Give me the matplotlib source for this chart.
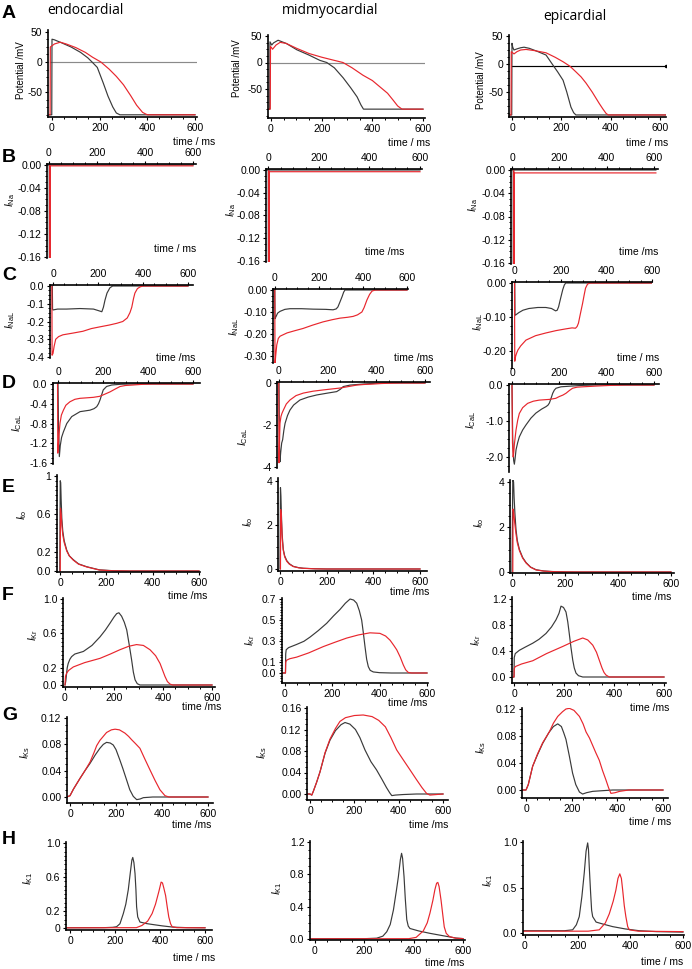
import matplotlib
matplotlib.use('Agg')
import matplotlib.pyplot as plt
from matplotlib.ticker import AutoMinorLocator

plt.rcParams['font.family'] = ['Liberation Sans', 'DejaVu Sans']
plt.rcParams['mathtext.fontset'] = 'custom'
plt.rcParams['mathtext.rm'] = 'Liberation Sans'
plt.rcParams['mathtext.it'] = 'Liberation Sans:italic'

W, H = 692, 969
BLACK = '#3a3a3a'
RED = '#e8262d'

# ---------------- data: (time ms, value), black = _k, red = _r ----------------
# A: action potential (mV)
ap_endo_k = [(-12, -88), (-1, -88), (0, 38), (10, 37), (40, 32), (80, 25), (120, 16), (150, 7),
             (168, 0), (190, -9), (215, -35), (235, -57), (255, -75), (270, -85), (285, -88), (600, -88)]
ap_endo_r = [(-12, -88), (-8, -88), (-7, 25), (0, 27), (10, 30), (35, 33), (60, 30), (100, 24),
             (140, 16), (170, 8), (205, 0), (240, -12), (270, -24), (300, -38), (330, -56),
             (355, -72), (380, -84), (400, -88), (600, -88)]
ap_mid_k = [(-8, -88), (-5, -88), (-4, 39), (3, 33), (10, 37), (28, 42), (60, 36), (102, 24),
            (150, 14), (193, 4), (220, 0), (250, -10), (285, -29), (315, -48), (340, -65),
            (355, -80), (365, -88), (600, -88)]
ap_mid_r = [(-8, -88), (-3, -88), (-2, 30), (2, 28), (6, 25), (20, 33), (36, 38), (60, 36),
            (100, 27), (150, 17), (200, 10), (250, 4), (284, 0), (320, -10), (363, -24),
            (400, -34), (430, -46), (460, -58), (482, -71), (500, -82), (517, -88), (600, -88)]
ap_epi_k = [(-14, -91), (-1, -91), (0, 37), (3, 30), (8, 25), (20, 27), (35, 29), (49, 30),
            (70, 28), (100, 23), (138, 16), (166, -2), (185, -14), (207, -29), (222, -50),
            (239, -77), (250, -87), (259, -91), (625, -91)]
ap_epi_r = [(-14, -91), (-4, -91), (-3, 22), (3, 20), (8, 18), (20, 22), (35, 25), (57, 26),
            (90, 24), (138, 20), (175, 12), (207, 4), (235, -4), (259, -14), (280, -23),
            (300, -34), (325, -50), (353, -70), (368, -80), (381, -88), (390, -91), (625, -91)]
ap_zero = [(-8, 0), (608, 0)]
ap_zero_epi = [(0, -3), (625, -3)]

# B: I_Na
ina_endo_k = [(-8, 0), (1, 0), (1.5, -0.2), (2.5, -0.2), (3, 0), (600, 0)]
ina_endo_r = [(2.5, 0), (3, -0.2), (4.5, -0.2), (5, -0.0015), (600, -0.0015)]
ina_mid_k = [(-8, 0), (1, 0), (1.5, -0.2), (2.5, -0.2), (3, 0), (600, 0)]
ina_mid_r = [(2.5, 0), (3, -0.2), (4.5, -0.2), (5, -0.003), (600, -0.003)]
ina_epi_k = [(-4, 0), (5, 0), (5.5, -0.2), (6.5, -0.2), (7, 0), (608, 0)]
ina_epi_r = [(7.5, 0), (8, -0.2), (9.5, -0.2), (10, -0.005), (608, -0.005)]

# C: I_NaL
inal_endo_k = [(-3, 0), (-2, -0.13), (0, -0.135), (20, -0.13), (60, -0.13), (120, -0.127),
               (180, -0.13), (205, -0.14), (217, -0.145), (224, -0.12), (231, -0.08), (240, -0.04),
               (253, -0.01), (265, 0), (600, 0)]
inal_endo_r = [(-5, 0), (-4, -0.39), (0, -0.38), (5, -0.34), (12, -0.3), (25, -0.285), (44, -0.275),
               (90, -0.265), (133, -0.255), (170, -0.24), (209, -0.23), (250, -0.22), (284, -0.21),
               (310, -0.2), (330, -0.18), (342, -0.15), (350, -0.12), (358, -0.07), (364, -0.04),
               (375, -0.015), (387, -0.005), (400, 0), (600, 0)]
inal_mid_k = [(-1, 0), (0, -0.13), (5, -0.12), (12, -0.105), (23, -0.097), (45, -0.088), (68, -0.085),
              (120, -0.085), (173, -0.087), (230, -0.088), (264, -0.09), (278, -0.086), (286, -0.077),
              (295, -0.055), (305, -0.03), (312, -0.01), (318, 0), (600, 0)]
inal_mid_r = [(-1, 0), (0, -0.34), (3, -0.3), (8, -0.25), (15, -0.22), (23, -0.21), (55, -0.195),
              (90, -0.185), (127, -0.175), (170, -0.16), (218, -0.145), (260, -0.135), (295, -0.128),
              (330, -0.124), (355, -0.12), (375, -0.113), (395, -0.1), (405, -0.08), (418, -0.045),
              (430, -0.02), (441, -0.005), (455, 0), (600, 0)]
inal_epi_k = [(-1, 0), (0, -0.095), (5, -0.093), (17, -0.087), (35, -0.08), (61, -0.075), (100, -0.072),
              (135, -0.072), (160, -0.075), (178, -0.082), (185, -0.08), (191, -0.07), (198, -0.05),
              (209, -0.02), (216, -0.006), (222, 0), (600, 0)]
inal_epi_r = [(-2, 0), (-1, -0.23), (3, -0.215), (8, -0.205), (13, -0.197), (25, -0.185), (48, -0.168),
              (90, -0.155), (135, -0.147), (180, -0.14), (222, -0.135), (250, -0.132), (265, -0.133),
              (272, -0.128), (278, -0.118), (285, -0.095), (296, -0.06), (303, -0.035), (309, -0.015),
              (318, -0.003), (330, 0), (600, 0)]

# D: I_CaL
ical_endo_k = [(0, 0), (2, -0.8), (6, -1.47), (10, -1.25), (16, -1.08), (24, -0.97), (39, -0.8),
               (61, -0.66), (98, -0.56), (142, -0.53), (160, -0.5), (172, -0.46), (180, -0.4),
               (187, -0.32), (194, -0.22), (201, -0.12), (216, -0.05), (239, -0.02), (280, -0.005),
               (320, 0), (600, 0)]
ical_endo_r = [(-2, 0), (-1, -1.4), (1, -1.3), (4, -1.05), (9, -0.79), (15, -0.63), (24, -0.53),
               (35, -0.43), (53, -0.36), (75, -0.31), (98, -0.29), (157, -0.27), (185, -0.25),
               (201, -0.22), (216, -0.19), (231, -0.16), (255, -0.1), (276, -0.05), (300, -0.03),
               (333, -0.02), (380, -0.005), (420, 0), (600, 0)]
ical_mid_k = [(0, 0), (2, -3.0), (4, -3.75), (7, -3.3), (11, -2.86), (15, -2.7), (20, -2.25), (25, -1.92),
              (35, -1.55), (45, -1.29), (60, -1.05), (86, -0.81), (120, -0.67), (155, -0.57), (200, -0.48),
              (237, -0.41), (252, -0.3), (264, -0.17), (292, -0.1), (346, -0.05), (400, -0.01),
              (450, 0), (600, 0)]
ical_mid_r = [(-1, 0), (0, -3.8), (2, -2.8), (4, -1.92), (8, -1.6), (12, -1.45), (18, -1.29), (30, -1.0),
              (45, -0.81), (70, -0.6), (100, -0.48), (140, -0.39), (182, -0.33), (220, -0.28),
              (251, -0.24), (285, -0.17), (319, -0.1), (350, -0.07), (387, -0.05), (420, -0.025),
              (455, -0.01), (500, 0), (600, 0)]
ical_epi_k = [(0, 0), (3, -1.5), (7, -2.1), (10, -2.2), (13, -2.05), (17, -1.8), (24, -1.6), (31, -1.44),
              (45, -1.25), (59, -1.11), (80, -0.92), (101, -0.78), (125, -0.67), (144, -0.6),
              (152, -0.56), (158, -0.5), (165, -0.37), (172, -0.23), (179, -0.14), (186, -0.09),
              (207, -0.05), (250, -0.03), (300, -0.01), (350, 0), (600, 0)]
ical_epi_r = [(0, 0), (2, -1.6), (5, -2.0), (7, -1.9), (10, -1.65), (17, -1.25), (24, -0.98), (31, -0.79),
              (45, -0.63), (66, -0.51), (90, -0.45), (115, -0.42), (158, -0.4), (185, -0.37),
              (200, -0.32), (215, -0.28), (228, -0.23), (243, -0.15), (256, -0.09), (275, -0.06),
              (299, -0.05), (355, -0.03), (420, -0.01), (480, 0), (600, 0)]

# E: I_to
ito_endo_k = [(-1, 0), (1, 0.95), (3, 0.93), (5, 0.75), (8, 0.55), (12, 0.42), (18, 0.32), (29, 0.22),
              (40, 0.16), (57, 0.12), (80, 0.075), (115, 0.045), (170, 0.012), (230, 0.003),
              (300, 0), (600, 0)]
ito_endo_r = [(1, 0), (2, 0.66), (5, 0.6), (8, 0.48), (12, 0.38), (18, 0.3), (29, 0.21), (40, 0.16),
              (57, 0.115), (80, 0.072), (115, 0.043), (170, 0.01), (230, 0.002), (300, 0), (600, 0)]
ito_mid_k = [(0, 0), (2, 3.7), (4, 3.3), (6, 2.5), (9, 1.6), (14, 0.9), (20, 0.6), (29, 0.38), (40, 0.24),
             (57, 0.12), (80, 0.06), (100, 0.035), (150, 0.01), (200, 0), (600, 0)]
ito_mid_r = [(2, 0), (3, 2.7), (5, 2.5), (7, 2.0), (10, 1.3), (14, 0.85), (20, 0.55), (29, 0.35),
             (40, 0.22), (57, 0.11), (80, 0.055), (100, 0.03), (150, 0.008), (200, 0), (600, 0)]
ito_epi_k = [(0, 0), (3, 4.1), (6, 4.0), (8, 3.3), (11, 2.6), (15, 1.9), (20, 1.4), (28, 1.0), (40, 0.65),
             (53, 0.42), (70, 0.22), (91, 0.1), (120, 0.045), (153, 0.02), (200, 0.005), (250, 0),
             (600, 0)]
ito_epi_r = [(3, 0), (4, 2.8), (7, 2.6), (10, 2.2), (15, 1.7), (20, 1.3), (28, 0.95), (40, 0.62),
             (53, 0.4), (70, 0.21), (91, 0.09), (120, 0.04), (153, 0.015), (200, 0.004), (250, 0),
             (600, 0)]

# F: I_Kr
ikr_endo_k = [(0, 0), (3, 0.04), (6, 0.12), (9, 0.2), (13, 0.25), (20, 0.3), (27, 0.33), (40, 0.36),
              (75, 0.39), (110, 0.46), (143, 0.56), (165, 0.64), (184, 0.72), (200, 0.79), (211, 0.83),
              (220, 0.84), (231, 0.8), (242, 0.73), (252, 0.64), (262, 0.47), (272, 0.29), (279, 0.15),
              (286, 0.06), (295, 0.015), (306, 0), (600, 0)]
ikr_endo_r = [(0, 0), (2, 0.1), (7, 0.14), (15, 0.17), (34, 0.21), (80, 0.26), (143, 0.31), (185, 0.36),
              (224, 0.41), (260, 0.45), (292, 0.47), (320, 0.46), (347, 0.41), (370, 0.34), (388, 0.25),
              (400, 0.16), (408, 0.1), (418, 0.04), (429, 0.01), (440, 0), (600, 0)]
ikr_mid_k = [(-12, 0), (2, 0), (3, 0.18), (5, 0.22), (15, 0.24), (49, 0.27), (80, 0.3), (106, 0.34),
             (140, 0.4), (176, 0.47), (205, 0.54), (232, 0.6), (255, 0.66), (275, 0.7), (290, 0.69),
             (303, 0.66), (314, 0.59), (324, 0.5), (331, 0.38), (338, 0.25), (345, 0.13), (352, 0.06),
             (360, 0.025), (373, 0.01), (400, 0.003), (450, 0), (600, 0)]
ikr_mid_r = [(-12, 0), (2, 0), (3, 0.1), (6, 0.12), (20, 0.135), (49, 0.15), (100, 0.19), (162, 0.25),
             (210, 0.29), (260, 0.33), (310, 0.36), (359, 0.38), (401, 0.375), (425, 0.35), (444, 0.31),
             (460, 0.26), (472, 0.22), (487, 0.15), (500, 0.076), (510, 0.03), (521, 0.005), (535, 0),
             (600, 0)]
ikr_epi_k = [(-2, 0), (0, 0), (1, 0.3), (5, 0.36), (21, 0.41), (45, 0.46), (75, 0.52), (100, 0.58),
             (128, 0.67), (150, 0.77), (168, 0.88), (180, 0.98), (188, 1.09), (198, 1.07), (208, 1.0),
             (215, 0.85), (221, 0.67), (228, 0.45), (235, 0.26), (241, 0.14), (248, 0.06), (258, 0.02),
             (275, 0), (600, 0)]
ikr_epi_r = [(-2, 0), (0, 0), (1, 0.13), (5, 0.16), (30, 0.2), (75, 0.25), (130, 0.36), (195, 0.47),
             (240, 0.55), (275, 0.6), (295, 0.57), (315, 0.49), (330, 0.38), (341, 0.26), (352, 0.14),
             (360, 0.07), (368, 0.03), (381, 0), (600, 0)]

# G: I_Ks
iks_endo_k = [(-14, 0), (0, 0.002), (15, 0.012), (43, 0.028), (65, 0.04), (87, 0.051), (110, 0.064),
              (130, 0.074), (145, 0.08), (159, 0.083), (175, 0.082), (188, 0.079), (200, 0.072),
              (217, 0.056), (230, 0.043), (246, 0.026), (260, 0.011), (275, 0.001), (290, -0.004),
              (305, -0.003), (319, -0.001), (360, 0), (600, 0)]
iks_endo_r = [(-14, 0), (0, 0.002), (15, 0.012), (43, 0.028), (65, 0.04), (87, 0.053), (105, 0.068),
              (116, 0.078), (130, 0.086), (159, 0.098), (180, 0.102), (196, 0.103), (215, 0.102),
              (239, 0.097), (255, 0.092), (268, 0.087), (285, 0.081), (304, 0.074), (325, 0.058),
              (348, 0.041), (370, 0.025), (391, 0.011), (413, 0.002), (430, 0), (600, 0)]
iks_mid_k = [(-10, 0), (0, 0), (8, -0.002), (15, 0.005), (30, 0.022), (45, 0.041), (68, 0.076),
             (90, 0.1), (115, 0.118), (140, 0.129), (158, 0.133), (180, 0.13), (205, 0.12), (225, 0.105),
             (248, 0.082), (275, 0.06), (300, 0.045), (325, 0.027), (345, 0.012), (360, 0.002),
             (369, -0.003), (385, -0.002), (420, -0.001), (480, 0), (600, 0)]
iks_mid_r = [(-10, 0), (0, 0), (8, -0.002), (15, 0.005), (30, 0.022), (45, 0.041), (68, 0.077),
             (90, 0.102), (115, 0.122), (135, 0.135), (160, 0.142), (200, 0.146), (240, 0.147),
             (280, 0.144), (310, 0.137), (340, 0.125), (365, 0.105), (391, 0.082), (420, 0.064),
             (451, 0.045), (480, 0.027), (505, 0.012), (526, 0.001), (541, -0.002), (570, -0.001),
             (600, 0)]
iks_epi_k = [(-14, 0), (0, 0), (10, 0.008), (29, 0.035), (50, 0.052), (73, 0.069), (100, 0.085),
             (120, 0.094), (139, 0.098), (155, 0.094), (165, 0.085), (175, 0.075), (190, 0.05),
             (204, 0.025), (218, 0.008), (234, -0.003), (248, -0.006), (265, -0.004), (292, -0.002),
             (380, 0), (600, 0)]
iks_epi_r = [(-14, 0), (0, 0), (10, 0.008), (29, 0.035), (50, 0.053), (73, 0.07), (102, 0.086),
             (120, 0.099), (139, 0.109), (160, 0.116), (175, 0.12), (190, 0.121), (210, 0.118),
             (234, 0.109), (250, 0.098), (263, 0.086), (278, 0.077), (292, 0.066), (306, 0.055),
             (321, 0.044), (335, 0.029), (350, 0.015), (362, 0.003), (372, -0.005), (390, -0.004),
             (410, -0.002), (450, 0), (600, 0)]

# H: I_K1
ik1_endo_k = [(-14, 0.003), (150, 0.004), (190, 0.008), (207, 0.015), (222, 0.05), (237, 0.17),
              (248, 0.28), (259, 0.45), (268, 0.65), (275, 0.8), (279, 0.83), (284, 0.77), (289, 0.64),
              (293, 0.45), (296, 0.25), (301, 0.13), (311, 0.07), (340, 0.052), (370, 0.04),
              (410, 0.025), (459, 0.01), (520, 0.004), (600, 0.003)]
ik1_endo_r = [(-14, 0.002), (295, 0.004), (320, 0.03), (345, 0.08), (365, 0.17), (380, 0.28),
              (395, 0.43), (405, 0.54), (411, 0.53), (417, 0.47), (425, 0.38), (432, 0.25),
              (439, 0.13), (447, 0.05), (454, 0.015), (475, 0.004), (600, 0.002)]
ik1_mid_k = [(-20, 0.003), (200, 0.004), (250, 0.01), (275, 0.035), (291, 0.09), (305, 0.18),
             (318, 0.36), (330, 0.6), (338, 0.77), (346, 0.98), (351, 1.06), (355, 1.0), (361, 0.77),
             (366, 0.5), (372, 0.24), (378, 0.16), (385, 0.13), (420, 0.1), (466, 0.07), (520, 0.04),
             (571, 0.012), (600, 0.005)]
ik1_mid_r = [(-20, 0.002), (380, 0.004), (410, 0.02), (439, 0.1), (455, 0.2), (466, 0.32), (478, 0.48),
             (486, 0.61), (493, 0.69), (498, 0.7), (503, 0.65), (511, 0.48), (518, 0.3), (524, 0.15),
             (532, 0.07), (545, 0.03), (570, 0.01), (600, 0.005)]
ik1_epi_k = [(-10, 0.025), (150, 0.025), (181, 0.035), (195, 0.09), (206, 0.18), (216, 0.4),
             (225, 0.66), (232, 0.9), (238, 0.99), (241, 0.92), (244, 0.73), (249, 0.45), (253, 0.25),
             (257, 0.18), (270, 0.12), (300, 0.095), (333, 0.07), (380, 0.045), (434, 0.025),
             (500, 0.015), (600, 0.01)]
ik1_epi_r = [(-10, 0.02), (240, 0.02), (282, 0.035), (305, 0.11), (320, 0.21), (335, 0.35), (345, 0.47),
             (353, 0.6), (360, 0.65), (366, 0.6), (371, 0.47), (377, 0.3), (383, 0.18), (390, 0.07),
             (396, 0.035), (430, 0.02), (600, 0.015)]

x_ticks = [0, 200, 400, 600]

# ---------------- layout helpers ----------------
fig = plt.figure(figsize=(W / 100, H / 100), dpi=100)


def ftext(x, y, s, **kw):
    fig.text(x / W, 1 - y / H, s, **kw)


def panel(box, xref, yref, yticks, ylabels, curves, top_axis=False):
    left, top, right, bottom = box
    ax = fig.add_axes([left / W, 1 - bottom / H, (right - left) / W, (bottom - top) / H])
    px0, px600 = xref
    sx = (px600 - px0) / 600.0
    ax.set_xlim((left - px0) / sx, (right - px0) / sx)
    (va, pa), (vb, pb) = yref
    sy = (pa - pb) / (vb - va)
    ax.set_ylim(va - (bottom - pa) / sy, va + (pa - top) / sy)
    for pts, col in curves:
        t = [p[0] for p in pts]
        v = [p[1] for p in pts]
        ax.plot(t, v, color=col, lw=0.85, solid_joinstyle='round')
    ax.set_xticks(x_ticks)
    ax.set_yticks(yticks)
    ax.set_yticklabels(ylabels)
    ax.xaxis.set_minor_locator(AutoMinorLocator(4))
    ax.yaxis.set_minor_locator(AutoMinorLocator(4))
    for s in ax.spines.values():
        s.set_linewidth(1.2)
    ax.spines['right'].set_visible(False)
    if top_axis:
        ax.spines['bottom'].set_visible(False)
        ax.xaxis.tick_top()
    else:
        ax.spines['top'].set_visible(False)
        ax.xaxis.tick_bottom()
    ax.yaxis.tick_left()
    ax.tick_params(which='major', length=2.5, width=0.8, labelsize=7.5, pad=1.5)
    ax.tick_params(which='minor', length=1.5, width=0.7)
    ax.patch.set_alpha(0)
    return ax


# ---------------- A: action potential ----------------
ax = panel((48, 30, 197, 117), (52, 195), ((50, 32), (-50, 92)), [-50, 0, 50], ['-50', '0', '50'],
           [(ap_zero, '#8a8a8a'), (ap_endo_k, BLACK), (ap_endo_r, RED)])
ax = panel((268, 35, 425, 118), (271, 423), ((50, 36), (-50, 89)), [-50, 0, 50], ['-50', '0', '50'],
           [(ap_zero, '#8a8a8a'), (ap_mid_k, BLACK), (ap_mid_r, RED)])
ax = panel((509, 35, 666, 117), (512, 660), ((50, 36), (-50, 92)), [-50, 0, 50], ['-50', '0', '50'],
           [(ap_zero_epi, 'black'), (ap_epi_k, BLACK), (ap_epi_r, RED)])
ax.plot([ap_zero_epi[-1][0]], [ap_zero_epi[-1][1]], 'o', color='black', ms=1.5)

# ---------------- B: I_Na ----------------
b_ticks = [0, -0.04, -0.08, -0.12, -0.16]
b_labels = ['0.00', '-0.04', '-0.08', '-0.12', '-0.16']
panel((47, 164, 196, 258), (49, 193), ((0, 165), (-0.16, 257)), b_ticks, b_labels,
      [(ina_endo_k, BLACK), (ina_endo_r, RED)], top_axis=True)
panel((266, 169, 422, 262), (268, 420), ((0, 170), (-0.16, 261)), b_ticks, b_labels,
      [(ina_mid_k, BLACK), (ina_mid_r, RED)], top_axis=True)
panel((511, 169, 658, 264), (512, 654), ((0, 170), (-0.16, 263)), b_ticks, b_labels,
      [(ina_epi_k, BLACK), (ina_epi_r, RED)], top_axis=True)

# ---------------- C: I_NaL ----------------
panel((50, 285, 193, 358), (53, 188), ((0, 286), (-0.4, 357)), [0, -0.1, -0.2, -0.3, -0.4],
      ['0.0', '-0.1', '-0.2', '-0.3', '-0.4'], [(inal_endo_k, BLACK), (inal_endo_r, RED)], top_axis=True)
panel((273, 289, 408, 363), (275, 407), ((0, 290), (-0.3, 356)), [0, -0.1, -0.2, -0.3],
      ['0.00', '-0.10', '-0.20', '-0.30'], [(inal_mid_k, BLACK), (inal_mid_r, RED)], top_axis=True)
panel((512, 282, 652, 368), (515, 653), ((0, 283), (-0.2, 351)), [0, -0.1, -0.2],
      ['0.00', '-0.10', '-0.20'], [(inal_epi_k, BLACK), (inal_epi_r, RED)], top_axis=True)

# ---------------- D: I_CaL ----------------
panel((53, 383, 200, 464), (58, 193), ((0, 384), (-1.6, 463)), [0, -0.4, -0.8, -1.2, -1.6],
      ['0.0', '-0.4', '-0.8', '-1.2', '-1.6'], [(ical_endo_k, BLACK), (ical_endo_r, RED)], top_axis=True)
panel((277, 382, 430, 468), (279, 425), ((0, 383), (-4, 467)), [0, -2, -4],
      ['0', '-2', '-4'], [(ical_mid_k, BLACK), (ical_mid_r, RED)], top_axis=True)
panel((509, 384, 659, 472), (512, 654), ((0, 385), (-2, 457)), [0, -1, -2],
      ['0.0', '-1.0', '-2.0'], [(ical_epi_k, BLACK), (ical_epi_r, RED)], top_axis=True)

# ---------------- E: I_to ----------------
panel((57, 475, 200, 572), (60, 199), ((0, 571), (0.2, 552)), [0, 0.2, 0.6, 1.0],
      ['0.0', '0.2', '0.6', '1'], [(ito_endo_k, BLACK), (ito_endo_r, RED)])
panel((278, 478, 427, 571), (280, 420), ((0, 569), (2, 525)), [0, 2, 4],
      ['0', '2', '4'], [(ito_mid_k, BLACK), (ito_mid_r, RED)])
panel((510, 480, 674, 573), (512, 671), ((0, 572), (2, 527)), [0, 2, 4],
      ['0', '2', '4'], [(ito_epi_k, BLACK), (ito_epi_r, RED)])

# ---------------- F: I_Kr ----------------
panel((63, 598, 215, 687), (65, 212), ((0, 685), (1.0, 599)), [0, 0.2, 0.6, 1.0],
      ['0.0', '0.2', '0.6', '1.0'], [(ikr_endo_k, BLACK), (ikr_endo_r, RED)])
panel((282, 598, 428, 683), (285, 427), ((0, 673), (0.7, 599)), [0, 0.1, 0.3, 0.5, 0.7],
      ['0.0', '0.1', '0.3', '0.5', '0.7'], [(ikr_mid_k, BLACK), (ikr_mid_r, RED)])
panel((512, 597, 666, 683), (514, 664), ((0, 677), (1.2, 599)), [0, 0.4, 0.8, 1.2],
      ['0.0', '0.4', '0.8', '1.2'], [(ikr_epi_k, BLACK), (ikr_epi_r, RED)])

# ---------------- G: I_Ks ----------------
panel((67, 717, 213, 803), (70, 208), ((0, 797), (0.12, 718)), [0, 0.04, 0.08, 0.12],
      ['0.00', '0.04', '0.08', '0.12'], [(iks_endo_k, BLACK), (iks_endo_r, RED)])
panel((307, 707, 448, 800), (310, 443), ((0, 794), (0.16, 708)), [0, 0.04, 0.08, 0.12, 0.16],
      ['0.00', '0.04', '0.08', '0.12', '0.16'], [(iks_mid_k, BLACK), (iks_mid_r, RED)])
panel((522, 708, 668, 798), (526, 663), ((0, 790), (0.12, 709)), [0, 0.04, 0.08, 0.12],
      ['0.00', '0.04', '0.08', '0.12'], [(iks_epi_k, BLACK), (iks_epi_r, RED)])

# ---------------- H: I_K1 ----------------
panel((66, 842, 212, 930), (70, 205), ((0, 928), (1.0, 843)), [0, 0.2, 0.6, 1.0],
      ['0', '0.2', '0.6', '1.0'], [(ik1_endo_k, BLACK), (ik1_endo_r, RED)])
panel((310, 841, 465, 940), (315, 463), ((0, 939), (1.2, 842)), [0, 0.4, 0.8, 1.2],
      ['0.0', '0.4', '0.8', '1.2'], [(ik1_mid_k, BLACK), (ik1_mid_r, RED)])
panel((523, 841, 684, 935), (525, 683), ((0, 933), (1.0, 842)), [0, 0.5, 1.0],
      ['0.0', '0.5', '1.0'], [(ik1_epi_k, BLACK), (ik1_epi_r, RED)])

# ---------------- texts ----------------
title_kw = dict(fontsize=10, family=['Open Sans', 'DejaVu Sans'], ha='center', va='center')
ftext(85, 10, 'endocardial', **title_kw)
ftext(330, 10, 'midmyocardial', **title_kw)
ftext(575, 16, 'epicardial', **title_kw)

for letter, y in zip('ABCDEFGH', [13, 157, 275, 383, 488, 596, 715, 839]):
    ftext(2, y, letter, fontsize=14, fontweight='bold', ha='left', va='center')

tl_kw = dict(fontsize=7.5, ha='right', va='center')
time_labels = [
    (215, 142, 'time / ms'), (430, 143, 'time / ms'), (668, 143, 'time / ms'),
    (196, 249, 'time / ms'), (404, 252, 'time /ms'), (658, 252, 'time /ms'),
    (195, 358, 'time /ms'), (433, 358, 'time /ms'), (659, 358, 'time / ms'),
    (207, 596, 'time /ms'), (429, 592, 'time /ms'), (671, 597, 'time /ms'),
    (221, 707, 'time /ms'), (427, 703, 'time /ms'), (669, 708, 'time /ms'),
    (211, 825, 'time /ms'), (448, 825, 'time /ms'), (671, 822, 'time / ms'),
    (215, 958, 'time / ms'), (464, 963, 'time /ms'), (683, 962, 'time / ms'),
]
for x, y, s in time_labels:
    ftext(x, y, s, **tl_kw)

yl_kw = dict(fontsize=7, ha='center', va='center', rotation=90)
for x, y in [(21, 70), (237, 68), (481, 80)]:
    ftext(x, y, 'Potential /mV', **yl_kw)

cur_labels = [
    (10, 200, r'$I_{\rm Na}$'), (231, 210, r'$I_{\rm Na}$'), (473, 205, r'$I_{\rm Na}$'),
    (10, 320, r'$I_{\rm NaL}$'), (234, 327, r'$I_{\rm NaL}$'), (478, 322, r'$I_{\rm NaL}$'),
    (17, 423, r'$I_{\rm CaL}$'), (243, 437, r'$I_{\rm CaL}$'), (471, 420, r'$I_{\rm CaL}$'),
    (22, 515, r'$I_{\rm to}$'), (248, 522, r'$I_{\rm to}$'), (479, 523, r'$I_{\rm to}$'),
    (33, 635, r'$I_{\rm Kr}$'), (250, 640, r'$I_{\rm Kr}$'), (476, 640, r'$I_{\rm Kr}$'),
    (25, 752, r'$I_{\rm Ks}$'), (262, 752, r'$I_{\rm Ks}$'), (481, 747, r'$I_{\rm Ks}$'),
    (28, 878, r'$I_{\rm K1}$'), (277, 888, r'$I_{\rm K1}$'), (488, 880, r'$I_{\rm K1}$'),
]
for x, y, s in cur_labels:
    ftext(x, y, s, fontsize=7.5, ha='center', va='center', rotation=90)

fig.savefig('out.png', dpi=100)
